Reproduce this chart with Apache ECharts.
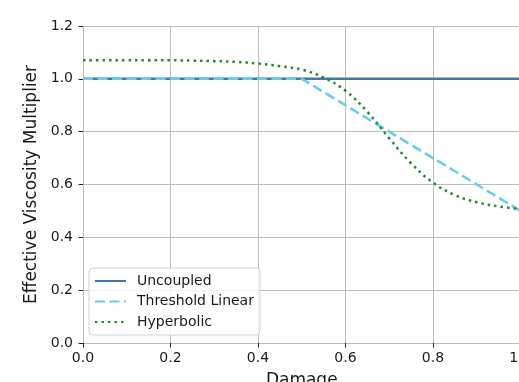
<!DOCTYPE html>
<html><head><meta charset="utf-8">
<script src="https://cdn.jsdelivr.net/npm/echarts@6/dist/echarts.min.js"></script>
<style>html,body{margin:0;padding:0;background:#fff}#c{width:519px;height:382px}</style>
</head><body><div id="c"></div>
<script>
const damage = [0,0.05,0.1,0.15,0.2,0.25,0.3,0.35,0.4,0.45,0.5,0.55,0.6,0.65,0.7,0.75,0.8,0.85,0.9,0.95,1.0];
const uncoupled = [1,1,1,1,1,1,1,1,1,1,1,1,1,1,1,1,1,1,1,1,1];
const thresholdLinear = [1,1,1,1,1,1,1,1,1,1,1,0.95,0.9,0.85,0.8,0.75,0.7,0.65,0.6,0.55,0.5];
const hyperbolic = [1.07,1.07,1.07,1.07,1.07,1.069,1.067,1.064,1.058,1.048,1.035,1.005,0.955,0.875,0.775,0.68,0.607,0.56,0.533,0.517,0.507];
const xTicks = [0,0.2,0.4,0.6,0.8,1.0];
const yTicks = [0,0.2,0.4,0.6,0.8,1.0,1.2];
const seriesNames = ['Uncoupled','Threshold Linear','Hyperbolic'];

const pair = ys => damage.map((x,i)=>[x,ys[i]]);
const font = 'DejaVu Sans';
const chart = echarts.init(document.getElementById('c'));
const axisCommon = {
  axisLine:{show:true,lineStyle:{color:'#bdbdbd',width:1}},
  axisTick:{show:true,length:4.5,lineStyle:{color:'#222',width:1}},
  splitLine:{show:true,lineStyle:{color:'#bdbdbd',width:1}},
  axisLabel:{color:'#1a1a1a',fontFamily:font,fontSize:14,formatter:v=>v.toFixed(1),hideOverlap:false},
  nameTextStyle:{color:'#1a1a1a',fontFamily:font,fontSize:17}
};
chart.setOption({
  animation:false,
  grid:{left:83,top:26,width:437.5,height:317,containLabel:false,outerBoundsMode:'none'},
  xAxis:Object.assign({type:'value',min:xTicks[0],max:xTicks[xTicks.length-1],interval:0.2,
    name:'Damage',nameLocation:'middle',nameGap:29},axisCommon,
    {axisLabel:Object.assign({},axisCommon.axisLabel,{margin:8})}),
  yAxis:Object.assign({type:'value',min:yTicks[0],max:yTicks[yTicks.length-1],interval:0.2,
    name:'Effective Viscosity Multiplier',nameLocation:'middle',nameGap:40},axisCommon,
    {axisLabel:Object.assign({},axisCommon.axisLabel,{margin:10})}),
  legend:{
    orient:'vertical',left:89,top:268,
    data:seriesNames,
    itemWidth:31,itemHeight:14,itemGap:6.5,
    padding:[6,6,6,5],
    itemStyle:{opacity:0},
    backgroundColor:'rgba(255,255,255,0.8)',
    borderColor:'#d0d0d0',borderWidth:1,borderRadius:4,
    textStyle:{color:'#1a1a1a',fontFamily:font,fontSize:14,lineHeight:14,padding:[0,0,0,6]}
  },
  series:[
    {name:seriesNames[0],type:'line',data:pair(uncoupled),symbol:'none',
      lineStyle:{color:'#4477AA',width:2.5},itemStyle:{color:'#4477AA'}},
    {name:seriesNames[1],type:'line',data:pair(thresholdLinear),symbol:'none',
      lineStyle:{color:'#66CCEE',width:2.5,type:[10,4.5]},itemStyle:{color:'#66CCEE'}},
    {name:seriesNames[2],type:'line',data:pair(hyperbolic),symbol:'none',smooth:0.4,
      lineStyle:{color:'#228833',width:2.5,type:[2.5,4]},itemStyle:{color:'#228833'}}
  ]
});
</script></body></html>
